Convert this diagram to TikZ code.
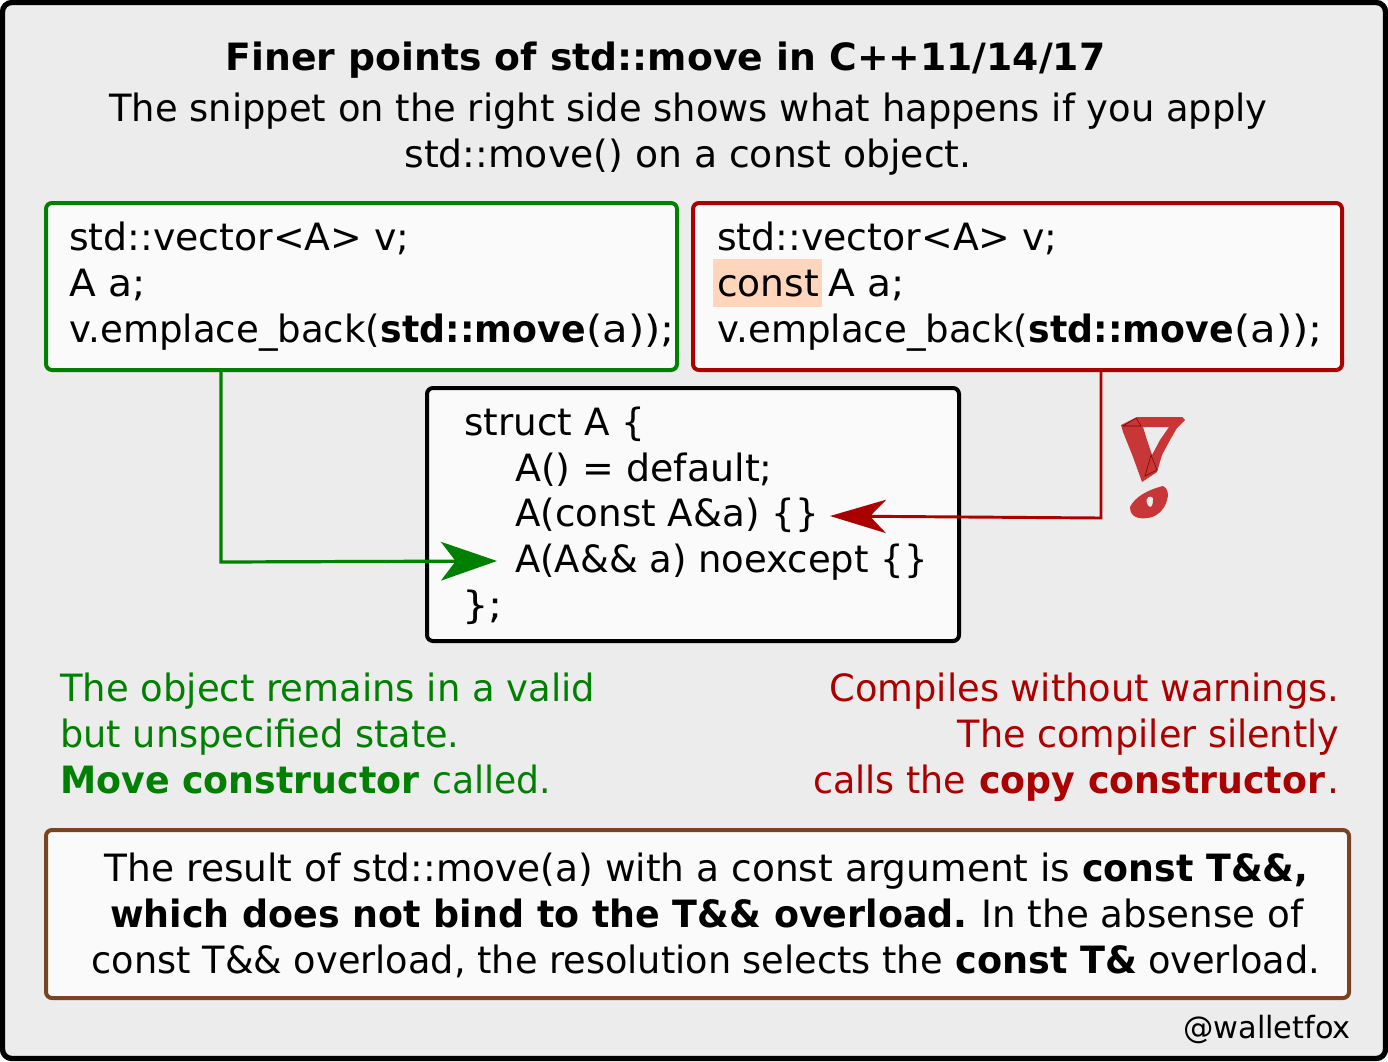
\documentclass[tikz,border=0pt]{standalone}
\usepackage{fontspec}
\setmainfont{DejaVu Sans}
\usetikzlibrary{arrows.meta}
\definecolor{bgc}{HTML}{ECECEC}
\definecolor{boxc}{HTML}{FAFAFA}
\definecolor{gc}{HTML}{008000}
\definecolor{rc}{HTML}{AA0000}
\definecolor{bc}{HTML}{784421}
\definecolor{hc}{HTML}{FFD5BC}
\definecolor{mc}{HTML}{C83737}
\newcommand{\sx}[2]{\scalebox{#1}[1]{#2}}
\tikzset{
  x=0.75pt,y=-0.75pt,
  base/.style={font=\fontsize{28.2pt}{34pt}\selectfont,inner sep=0pt},
  tl/.style={base,anchor=base west},
  tc/.style={base,anchor=base},
  tr/.style={base,anchor=base east},
  panel/.style={rounded corners=4.5pt,line width=3pt,fill=boxc},
  gline/.style={draw=gc,line width=2.4pt,-{Stealth[length=42pt,width=29pt,inset=11pt]}},
  rline/.style={draw=rc,line width=2.2pt,-{Stealth[length=42pt,width=25pt,inset=12pt]}},
  markline/.style={draw=rc!70!black,line width=0.4pt},
}
\begin{document}
\begin{tikzpicture}
\useasboundingbox (0,0) rectangle (1388,1061);
\draw[line width=4pt,rounded corners=7pt,fill=bgc] (2.5,2.5) rectangle (1385.5,1058.5);

% panels
\draw[panel,draw=gc] (46,203) rectangle (677,370);
\coordinate (gstart) at (221,370);
\draw[panel,draw=rc] (693,203) rectangle (1342,370);
\coordinate (rstart) at (1101,370);
\draw[panel,draw=black] (427,388) rectangle (959,641);
\draw[panel,draw=bc] (46,830) rectangle (1349,998);
\fill[hc] (713,259) rectangle (822,307);

% title
\node[tc,font=\fontsize{28.2pt}{34pt}\selectfont\bfseries] (title) at (665.5,70) {\sx{1.0034}{Finer points of std::move in C++11/14/17}};
\node[tc] (intro1) at (688.5,121) {\sx{0.9805}{The snippet on the right side shows what happens if you apply}};
\node[tc] (intro2) at (688,167) {\sx{1.0035}{std::move() on a const object.}};

% left code
\node[tl] (l1) at (69,250) {\sx{1.006}{std::vector<A> v;}};
\node[tl] (l2) at (69,296) {\sx{1.04}{A a;}};
\node[tl] (l3a) at (69,342) {\sx{0.987}{v.emplace\_back(}};
\node[tl] (l3b) at (380.5,342) {\sx{0.965}{\textbf{std::move}}};
\node[tl] (l3c) at (586,342) {\sx{1.11}{(a));}};
% right code
\node[tl] (r1) at (717,250) {\sx{1.006}{std::vector<A> v;}};
\node[tl] (r2a) at (717,296) {const};
\node[tl] (r2b) at (828,296) {\sx{1.04}{A a;}};
\node[tl] (r3a) at (717,342) {\sx{0.987}{v.emplace\_back(}};
\node[tl] (r3b) at (1028.5,342) {\sx{0.965}{\textbf{std::move}}};
\node[tl] (r3c) at (1234,342) {\sx{1.11}{(a));}};
% struct
\node[tl] (s1) at (464,435) {\sx{0.99}{struct A \{}};
\node[tl] (s2) at (515,481) {\sx{1.008}{A() = default;}};
\node[tl] (s3) at (515,526) {\sx{0.99}{A(const A\&a) \{\}}};
\node[tl] (s4) at (515,572) {\sx{0.983}{A(A\&\& a) noexcept \{\}}};
\node[tl] (s5) at (462,618) {\sx{1.11}{\};}};

% connectors
\coordinate (gend) at (497,561);
\coordinate (rend) at (830,516);
\draw[gline] (gstart) |- (221,562) -- (gend);
\draw[rline] (rstart) -- (1101,518) -- (rend);

% exclamation mark
\fill[mc,even odd rule]
  (1121,425) -- (1137,417) -- (1182,417) -- (1185,420) -- (1177,428) -- (1170,440) -- (1162,455) -- (1157,472) -- (1142,482) -- (1133,457) -- (1123,432) -- cycle
  (1143,427) -- (1169,427) -- (1160,440) -- (1152,455) -- (1147,440) -- cycle;
\draw[markline] (1123,426) -- (1141,426) -- (1136,418) -- cycle;
\draw[markline] (1151,455) -- (1145,476) -- (1157,470) -- cycle;
\fill[mc,even odd rule]
  (1130,507) .. controls (1135,497) and (1147,490) .. (1163,486) .. controls (1168,488) and (1169,495) .. (1167,500) .. controls (1165,510) and (1155,518) .. (1147,518) .. controls (1140,519) and (1130,518) .. (1130,507) -- cycle
  (1148,497) .. controls (1151,496) and (1154,497) .. (1153,500) .. controls (1153,504) and (1152,507) .. (1150,507) .. controls (1147,506) and (1145,500) .. (1148,497) -- cycle;

% captions
\node[tl,text=gc] (g1) at (60,701) {\sx{0.983}{The object remains in a valid}};
\node[tl,text=gc] (g2) at (60,747) {\sx{0.975}{but unspecified state.}};
\node[tl,text=gc] (g3a) at (60,793) {\sx{0.967}{\textbf{Move constructor}}};
\node[tl,text=gc] (g3b) at (432,793) {\sx{0.96}{called.}};
\node[tr,text=rc] (c1) at (1339.5,701) {\sx{0.979}{Compiles without warnings.}};
\node[tr,text=rc] (c2) at (1339.5,747) {\sx{0.972}{The compiler silently}};
\node[tl,text=rc] (c3a) at (813,793) {\sx{0.968}{calls the}};
\node[tl,text=rc] (c3b) at (979,793) {\sx{0.966}{\textbf{copy constructor}}};
\node[tr,text=rc] (c3c) at (1339.5,793) {.};

% result
\node[tl] (res1a) at (104.5,881) {\sx{0.998}{The result of std::move(a) with a const argument is}};
\node[tr] (res1b) at (1308.5,881) {\sx{0.966}{\textbf{const T\&\&,}}};
\node[tl] (res2a) at (110,927) {\sx{0.969}{\textbf{which does not bind to the T\&\& overload.}}};
\node[tr] (res2b) at (1303.5,927) {\sx{0.99}{In the absense of}};
\node[tl] (res3a) at (91.5,973) {\sx{0.975}{const T\&\& overload, the resolution selects the}};
\node[tl] (res3b) at (955.5,973) {\sx{0.973}{\textbf{const T\&}}};
\node[tr] (res3c) at (1320.5,973) {\sx{0.977}{overload.}};

\node[tr,font=\fontsize{23pt}{28pt}\selectfont] (credit) at (1351,1038) {\sx{0.99}{@walletfox}};
\end{tikzpicture}
\end{document}
